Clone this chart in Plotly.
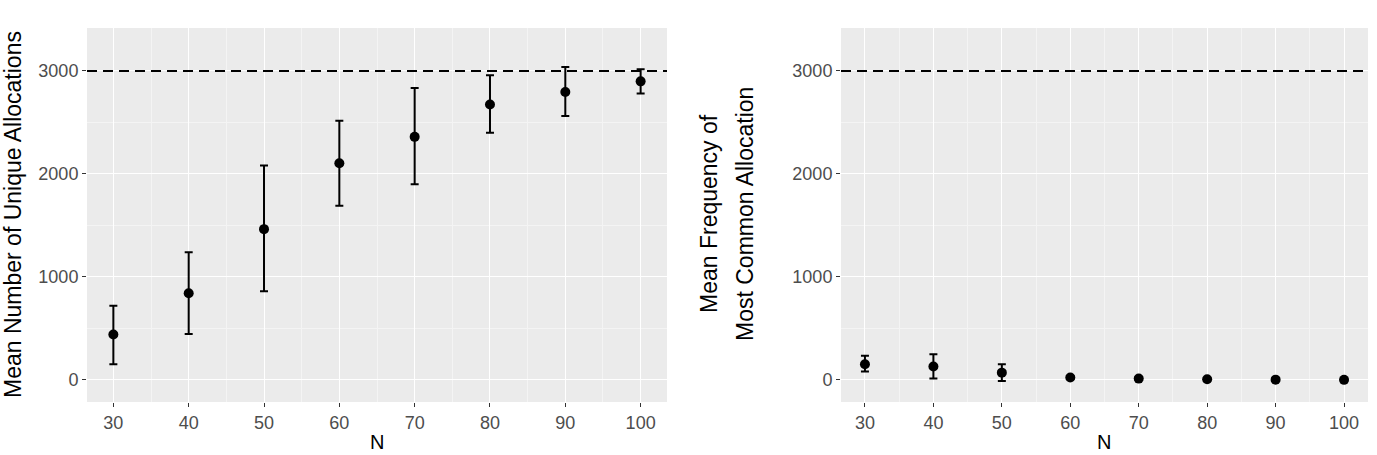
import plotly.graph_objects as go

N = [30, 40, 50, 60, 70, 80, 90, 100]

unique_mean = [442, 841, 1464, 2104, 2360, 2675, 2795, 2899]
unique_upper = [721, 1240, 2081, 2516, 2834, 2958, 3039, 3016]
unique_lower = [153, 445, 860, 1692, 1899, 2399, 2562, 2782]

common_mean = [153, 130, 71, 23, 13, 6, 3, 1]
common_upper = [234, 250, 153, 38, 22, 12, 7, 4]
common_lower = [81, 13, -10, 9, 5, 1, 0, 0]

reference_line = 3000

x_ticks = [30, 40, 50, 60, 70, 80, 90, 100]
y_ticks = [0, 1000, 2000, 3000]

left_title = "Mean Number of Unique Allocations"
right_title_lines = ["Mean Frequency of", "Most Common Allocation"]
x_title = "N"

W, H = 1377, 455
TICK_COLOR = "#333333"
LABEL_COLOR = "#4D4D4D"
BG = "#EBEBEB"
FONT = "Liberation Sans, Arial, sans-serif"
TICK_SIZE = 18
TITLE_SIZE = 23


def err(mean, upper, lower):
    return dict(
        type="data",
        symmetric=False,
        array=[u - m for u, m in zip(upper, mean)],
        arrayminus=[m - l for m, l in zip(mean, lower)],
        color="black",
        thickness=2,
        width=4,
    )


fig = go.Figure()
fig.add_trace(go.Scatter(
    x=N, y=unique_mean, mode="markers", xaxis="x", yaxis="y",
    marker=dict(color="black", size=10),
    error_y=err(unique_mean, unique_upper, unique_lower),
    showlegend=False,
))
fig.add_trace(go.Scatter(
    x=N, y=common_mean, mode="markers", xaxis="x2", yaxis="y2",
    marker=dict(color="black", size=10),
    error_y=err(common_mean, common_upper, common_lower),
    showlegend=False,
))


def xax(domain, anchor):
    return dict(
        domain=domain, anchor=anchor, range=[26.5, 103.5],
        tickvals=x_ticks, ticktext=[str(v) for v in x_ticks],
        ticks="outside", ticklen=4, tickwidth=1.2, tickcolor=TICK_COLOR,
        tickfont=dict(family=FONT, size=TICK_SIZE, color=LABEL_COLOR),
        showgrid=True, gridcolor="white", gridwidth=1.3,
        minor=dict(dtick=5, tick0=25, showgrid=True, gridcolor="#F4F4F4", gridwidth=0.7),
        zeroline=False, showline=False,
    )


def yax(anchor):
    return dict(
        domain=[0.1165, 0.9385], anchor=anchor, range=[-214, 3417],
        tickvals=y_ticks, ticktext=[str(v) for v in y_ticks],
        ticks="outside", ticklen=4, tickwidth=1.2, tickcolor=TICK_COLOR,
        tickfont=dict(family=FONT, size=TICK_SIZE, color=LABEL_COLOR),
        showgrid=True, gridcolor="white", gridwidth=1.3,
        minor=dict(dtick=500, tick0=500, showgrid=True, gridcolor="#F4F4F4", gridwidth=0.7),
        zeroline=False, showline=False,
    )


fig.update_layout(
    width=W, height=H,
    margin=dict(l=0, r=0, t=0, b=0),
    paper_bgcolor="white",
    plot_bgcolor=BG,
    xaxis=xax([87 / W, 667 / W], "y"),
    yaxis=yax("x"),
    xaxis2=xax([841 / W, 1368 / W], "y2"),
    yaxis2=yax("x2"),
    font=dict(family=FONT, color="black"),
)

for xr, yr in [("x domain", "y"), ("x2 domain", "y2")]:
    fig.add_shape(type="line", xref=xr, yref=yr, x0=0, x1=1,
                  y0=reference_line, y1=reference_line,
                  line=dict(color="black", width=2, dash="10px,6px"), layer="above")

ann = [
    dict(text=left_title, x=13 / W, y=1 - 215 / H, textangle=-90, yanchor="middle",
         font=dict(family=FONT, size=TITLE_SIZE, color="black")),
    dict(text=right_title_lines[0], x=709 / W, y=1 - 214 / H, textangle=-90, yanchor="middle",
         font=dict(family=FONT, size=TITLE_SIZE, color="black")),
    dict(text=right_title_lines[1], x=745 / W, y=1 - 214 / H, textangle=-90, yanchor="middle",
         font=dict(family=FONT, size=TITLE_SIZE, color="black")),
    dict(text=x_title, x=377 / W, y=0, yanchor="bottom",
         font=dict(family=FONT, size=20, color="black")),
    dict(text=x_title, x=1104 / W, y=0, yanchor="bottom",
         font=dict(family=FONT, size=20, color="black")),
]
for a in ann:
    fig.add_annotation(
        xref="paper", yref="paper", showarrow=False,
        xanchor="center", **a,
    )

fig.write_html("out.html")
